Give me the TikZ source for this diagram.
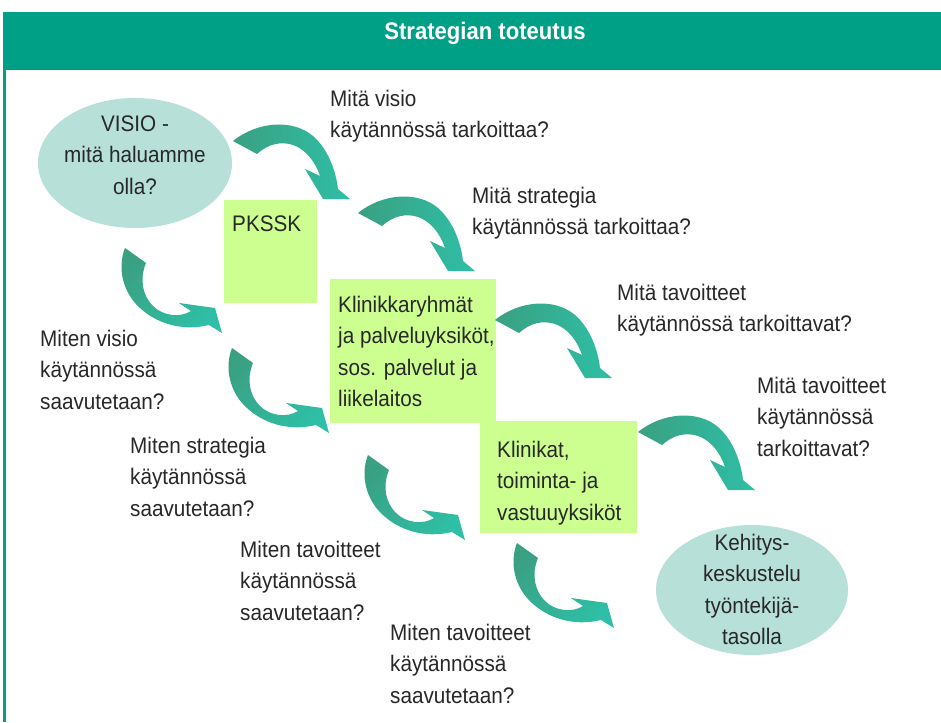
\documentclass[tikz,border=0pt]{standalone}
\usepackage{fontspec}
\setmainfont[FakeStretch=0.92]{Liberation Sans}
\usetikzlibrary{shapes.geometric}
\definecolor{hdr}{HTML}{00A087}
\definecolor{ellfill}{HTML}{B6E0D8}
\definecolor{boxfill}{HTML}{CCFF90}
\definecolor{arrdark}{HTML}{3AA082}
\definecolor{arrlight}{HTML}{2EBFA6}
\definecolor{txt}{HTML}{282828}
\begin{document}
\begin{tikzpicture}[x=1pt,y=-1pt,
  lbl/.style={font=\fontsize{22.5}{31.5}\selectfont, text=txt, inner sep=0pt, align=left, anchor=north west},
  lblc/.style={lbl, align=center, anchor=north},
  ell/.style={ellipse, fill=ellfill, inner sep=0pt, minimum width=194pt, minimum height=130pt},
  greenbox/.style={fill=boxfill, inner sep=0pt, anchor=north west},
  titletext/.style={font=\fontsize{24}{28}\selectfont\bfseries, text=white, inner sep=0pt},
  shadeA/.style={left color=arrdark, right color=arrlight},
  shadeB/.style={top color=arrdark, bottom color=arrlight, shading angle=45},
  arrA/.pic={\path[shadeA] (0,0) .. controls (25,-20) and (60,-22) .. (80,-5)
      .. controls (95,8) and (103,30) .. (105,48) -- (117,58) -- (90,58) -- (72,28) -- (87,35)
      .. controls (82,20) and (72,8) .. (60,4) .. controls (48,0) and (35,3) .. (24,13) -- cycle;},
  arrB/.pic={\path[shadeB] (0,0) .. controls (-8,20) and (-2,45) .. (15,60)
      .. controls (30,74) and (55,84) .. (84,77) -- (97,85) -- (90,60) -- (54,55) -- (66,63)
      .. controls (55,70) and (38,68) .. (28,58) .. controls (18,48) and (14,32) .. (21,15) -- cycle;}
]
\useasboundingbox (0,0) rectangle (941,722);
\fill[white] (0,0) rectangle (941,722);
% frame
\fill[hdr] (3,12) rectangle (941,70);
\draw[hdr, line width=2.5pt] (4.5,70) -- (4.5,722);
\node[titletext] (title) at (485,33) {Strategian toteutus};

% shapes
\node[ell] (visio) at (135,163) {};
\node[ell, minimum width=192pt] (kehitys) at (752,590) {};
\node[greenbox, minimum width=93pt, minimum height=103pt] (pkssk) at (224,200) {};
\node[greenbox, minimum width=166pt, minimum height=144pt] (klinryh) at (330,279) {};
\node[greenbox, minimum width=157pt, minimum height=112pt] (klinikat) at (480,421) {};

% arrows
\pic (a1) at (233,141) {arrA};
\pic (a2) at (358,213) {arrA};
\pic (a3) at (495,320) {arrA};
\pic (a4) at (638,432) {arrA};
\pic (b1) at (125,248) {arrB};
\pic (b2) at (232,348) {arrB};
\pic (b3) at (368,455) {arrB};
\pic (b4) at (517,543) {arrB};

% texts in shapes
\node[lblc] (visiot) at (135,115.5) {VISIO -\\mitä haluamme\\olla?};
\node[lblc] (kehityst) at (752,533.5) {Kehitys-\\keskustelu\\työntekijä-\\tasolla};
\node[lbl] (pkssktxt) at (232,215.5) {PKSSK};
\node[lbl] (klinryhtxt) at (338,295.5) {Klinikkaryhmät\\ja palveluyksiköt,\\sos. palvelut ja\\liikelaitos};
\node[lbl] (klinikattxt) at (497,440.5) {Klinikat,\\toiminta- ja\\vastuuyksiköt};

% questions
\node[lbl] (q1) at (330,89.5) {Mitä visio\\käytännössä tarkoittaa?};
\node[lbl] (q2) at (472,186.5) {Mitä strategia\\käytännössä tarkoittaa?};
\node[lbl] (q3) at (617,283.5) {Mitä tavoitteet\\käytännössä tarkoittavat?};
\node[lbl] (q4) at (757,376.5) {Mitä tavoitteet\\käytännössä\\tarkoittavat?};
\node[lbl] (m1) at (40,329.5) {Miten visio\\käytännössä\\saavutetaan?};
\node[lbl] (m2) at (130,436.5) {Miten strategia\\käytännössä\\saavutetaan?};
\node[lbl] (m3) at (240,540.5) {Miten tavoitteet\\käytännössä\\saavutetaan?};
\node[lbl] (m4) at (390,623.5) {Miten tavoitteet\\käytännössä\\saavutetaan?};
\end{tikzpicture}
\end{document}
